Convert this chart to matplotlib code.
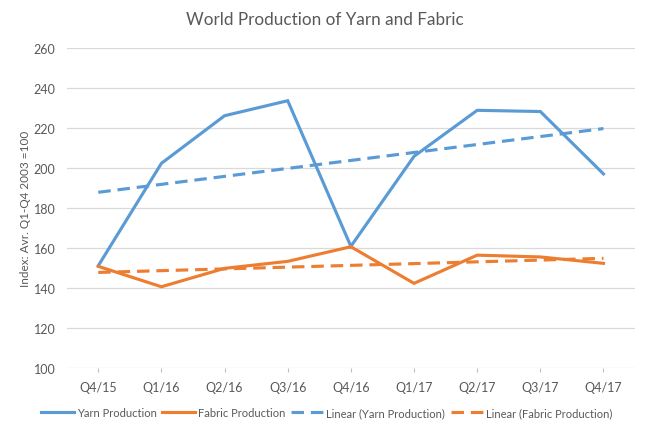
import numpy as np
import matplotlib
matplotlib.use("Agg")
from matplotlib import pyplot as plt

quarters = ["Q4/15", "Q1/16", "Q2/16", "Q3/16", "Q4/16", "Q1/17", "Q2/17", "Q3/17", "Q4/17"]
yarn = [151.3, 202.5, 226.3, 233.8, 161.0, 206.0, 229.0, 228.4, 197.2]
fabric = [151.0, 140.8, 150.0, 153.5, 160.8, 142.5, 156.6, 155.7, 152.5]

blue = "#5B9BD5"
orange = "#ED7D31"
text_col = "#595959"

plt.rcParams["font.family"] = ["Lato", "DejaVu Sans"]

x = np.arange(len(quarters))
# excel style linear trendlines
yarn_fit = np.polyval(np.polyfit(x, yarn, 1), x)
fabric_fit = np.polyval(np.polyfit(x, fabric, 1), x)

fig = plt.figure(figsize=(6.5, 4.31), dpi=100)
ax = fig.add_axes([0.1026, 0.143, 0.8744, 0.7426])

ax.plot(x, yarn, color=blue, lw=2.25, label="Yarn Production", solid_joinstyle="miter")
ax.plot(x, fabric, color=orange, lw=2.25, label="Fabric Production", solid_joinstyle="miter")
ax.plot(x, yarn_fit, color=blue, lw=2.25, dashes=(4, 2.2), label="Linear (Yarn Production)")
ax.plot(x, fabric_fit, color=orange, lw=2.25, dashes=(4, 2.2), label="Linear (Fabric Production)")

ax.set_xlim(-0.5, len(quarters) - 0.5)
ax.set_ylim(100, 260)
ax.set_yticks(np.arange(100, 261, 20))
ax.set_xticks(x)
ax.set_xticklabels(quarters)
ax.grid(axis="y", color="#D9D9D9", lw=0.9)
ax.set_axisbelow(True)
for s in ax.spines.values():
    s.set_visible(False)
ax.tick_params(axis="y", length=0, colors=text_col, labelsize=9, pad=8)
ax.tick_params(axis="x", length=3, color="#BFBFBF", colors=text_col, labelsize=9, pad=6)
for lbl in ax.get_xticklabels():
    lbl.set_color(text_col)

ax.set_ylabel("Index: Avr. Q1-Q4 2003 =100", color=text_col, fontsize=8.5)
ax.yaxis.set_label_coords(-0.063, 0.5)
fig.suptitle("World Production of Yarn and Fabric", color=text_col, fontsize=12.3, y=0.972)

ax.legend(loc="upper center", bbox_to_anchor=(0.458, -0.09), ncol=4, frameon=False,
          fontsize=8, labelcolor=text_col, handlelength=2.9, handletextpad=0.3,
          columnspacing=0.5)

fig.savefig("out.png", dpi=100)
